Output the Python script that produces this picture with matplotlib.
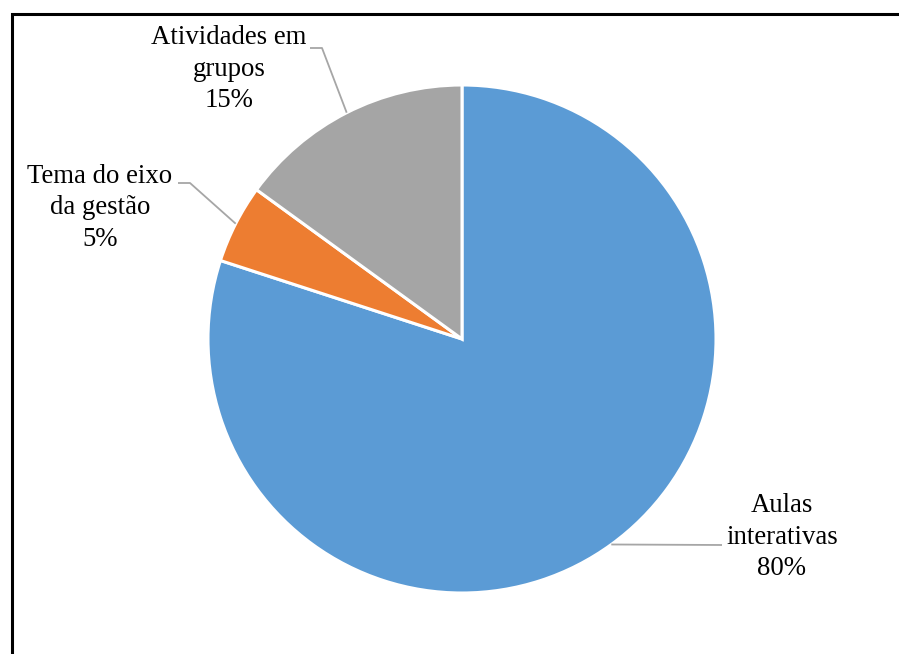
import matplotlib.pyplot as plt
import matplotlib.patches as patches
import numpy as np

labels = ['Aulas\ninterativas', 'Tema do eixo\nda gestão', 'Atividades em\ngrupos']
values = [80, 5, 15]
colors = ['#5B9BD5', '#ED7D31', '#A5A5A5']

# label text anchor (centre of text block) and elbow of the leader line, in pixels
label_pos = [(782, 537), (100, 208), (229, 69)]
elbow_pos = [(722, 545), (190, 183), (322, 48)]
line_start = [(722, 545), (178, 183), (310, 48)]

W, H = 899, 654
CX, CY, R = 462, 339, 254

plt.rcParams['font.family'] = ['Liberation Serif', 'DejaVu Serif']

fig = plt.figure(figsize=(W / 100, H / 100), dpi=100)
ax = fig.add_axes([0, 0, 1, 1])

wedges, _ = ax.pie(values, colors=colors, startangle=90, counterclock=False,
                   center=(CX, H - CY), radius=R,
                   wedgeprops=dict(edgecolor='white', linewidth=2.2))
ax.set_xlim(0, W)
ax.set_ylim(0, H)
ax.set_aspect('equal')
ax.axis('off')

# leader lines from the middle of each wedge's arc to the label
for w, lab, lp, ep, sp, v in zip(wedges, labels, label_pos, elbow_pos, line_start, values):
    ang = np.deg2rad((w.theta1 + w.theta2) / 2)
    px = CX + R * np.cos(ang)
    py = (H - CY) + R * np.sin(ang)
    ax.plot([px, ep[0], sp[0]], [py, H - ep[1], H - sp[1]],
            color='#A6A6A6', linewidth=1.3, solid_capstyle='butt')
    ax.text(lp[0], H - lp[1], f'{lab}\n{v}%', ha='center', va='center',
            fontsize=19.3, linespacing=1.33, color='black')

# chart border (right and bottom edges fall outside the image)
frame = patches.Rectangle((12 / W, -0.1), 1.2, 1 - 14 / H + 0.1,
                          transform=fig.transFigure, fill=False,
                          edgecolor='black', linewidth=2.2)
fig.patches.append(frame)

fig.savefig('out.png', dpi=100)
